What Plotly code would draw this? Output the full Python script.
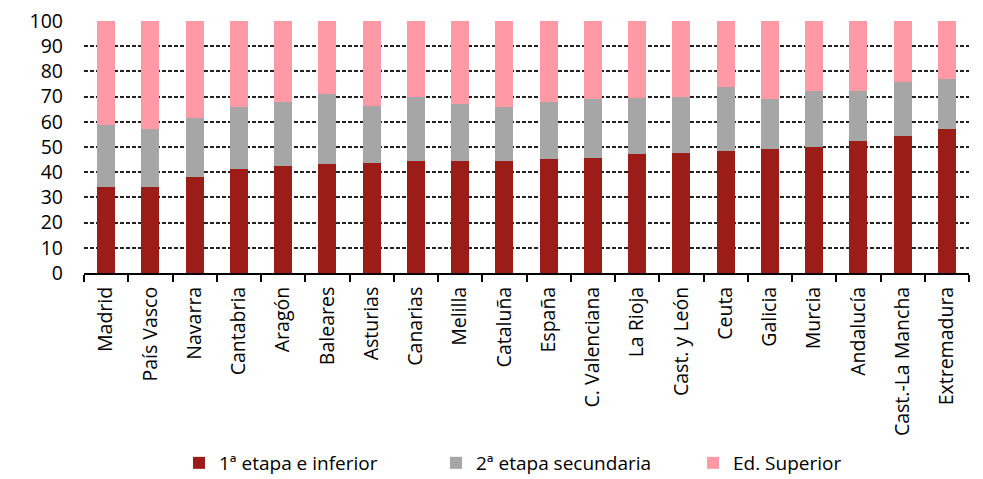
import plotly.graph_objects as go

regions = ["Madrid", "País Vasco", "Navarra", "Cantabria", "Aragón", "Baleares",
           "Asturias", "Canarias", "Melilla", "Cataluña", "España", "C. Valenciana",
           "La Rioja", "Cast. y León", "Ceuta", "Galicia", "Murcia", "Andalucía",
           "Cast.-La Mancha", "Extremadura"]
primera = [34.3, 34.3, 38.2, 41.3, 42.6, 43.3, 43.8, 44.6, 44.6, 44.6, 45.1, 45.8,
           47.1, 47.8, 48.5, 49.1, 49.9, 52.4, 54.2, 57.0]
segunda = [24.4, 22.7, 23.2, 24.6, 25.3, 27.7, 22.6, 25.1, 22.6, 21.4, 22.8, 23.4,
           22.2, 21.9, 25.2, 20.1, 22.5, 20.0, 21.5, 19.9]
superior = [41.3, 43.0, 38.6, 34.1, 32.1, 29.0, 33.6, 30.3, 32.8, 34.0, 32.1, 30.8,
            30.7, 30.3, 26.3, 30.8, 27.6, 27.6, 24.3, 23.1]

font = dict(family="Open Sans, sans-serif", size=19, color="#000000")

fig = go.Figure()
fig.add_bar(x=regions, y=primera, name="1ª etapa e inferior", marker_color="#9C1C18",
            marker_line_width=0)
fig.add_bar(x=regions, y=segunda, name="2ª etapa secundaria", marker_color="#A6A6A6",
            marker_line_width=0)
fig.add_bar(x=regions, y=superior, name="Ed. Superior", marker_color="#FF99A6",
            marker_line_width=0)

fig.update_layout(
    barmode="stack",
    bargap=0.59,
    width=983, height=479,
    margin=dict(l=84, r=14, t=21, b=206),
    plot_bgcolor="white", paper_bgcolor="white",
    font=font,
    legend=dict(orientation="h", xref="container", yref="container",
                x=179 / 983, xanchor="left", y=1 - 463 / 479, yanchor="middle",
                font=dict(size=19), entrywidth=212, traceorder="normal",
                itemwidth=30),
    showlegend=True,
)
fig.update_xaxes(showline=True, linecolor="#000000", linewidth=2,
                 ticks="outside", tickson="boundaries", ticklen=7, tickcolor="#000000",
                 tickwidth=1.5, tickangle=-90, tickfont=dict(size=19.5), showgrid=False,
                 ticklabelstandoff=4, automargin=False)
fig.update_yaxes(range=[0, 100], dtick=10, showgrid=True, gridcolor="#222222",
                 griddash="4px,2px", gridwidth=1.5, zeroline=False, showline=False,
                 tickfont=dict(size=19.5), ticks="", ticklabelstandoff=20,
                 automargin=False)

fig.write_html("out.html")
